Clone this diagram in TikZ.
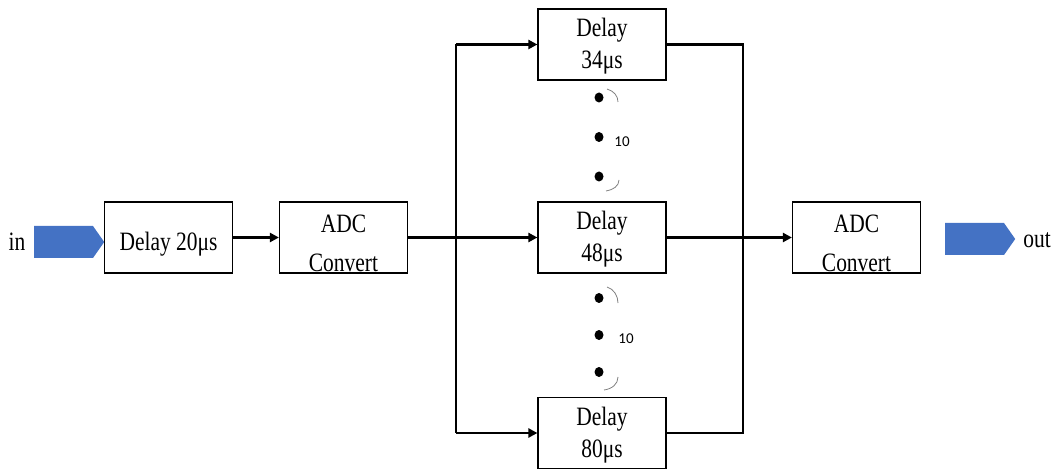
\documentclass[tikz,border=0pt]{standalone}
\usepackage{fontspec}
\setmainfont{Liberation Serif}[FakeStretch=0.81]
\newfontfamily\calfont{Carlito}
\usetikzlibrary{arrows.meta,shapes.symbols}
\definecolor{officeblue}{HTML}{4472C4}
\tikzset{
  box/.style={draw,line width=1.2pt,minimum width=128pt,minimum height=71pt,inner sep=0pt,align=center,
    font=\fontsize{26.5}{32}\selectfont},
  dbox/.style={box,text height=48pt,text depth=0pt},
  abox/.style={box,text height=69pt,text depth=0pt,font=\fontsize{26.5}{39}\selectfont},
  conn/.style={line width=2.6pt},
  arr/.style={conn,-{Triangle[length=9pt,width=9pt]}},
  port/.style={signal,signal to=east,fill=officeblue,minimum width=70pt,minimum height=32pt,
    signal pointer angle=110,inner sep=0pt,anchor=west},
  dot/.style={ellipse,fill=black,inner sep=0pt,minimum width=9pt,minimum height=10pt},
  brace/.style={draw=gray,line width=0.8pt},
  cnt/.style={font=\calfont\fontsize{15}{15}\selectfont,inner sep=0pt},
  lbl/.style={font=\fontsize{26.5}{32}\selectfont,inner sep=0pt}
}
\usetikzlibrary{shapes.geometric}
\begin{document}
\begin{tikzpicture}[x=1pt,y=-1pt]
\useasboundingbox (0,0) rectangle (1060,470);
% input / output
\node[lbl] (intext) at (17,242) {in};
\node[port] (inport) at (34,242) {};
\node[port] (outport) at (945,239) {};
\node[lbl] (outtext) at (1037,240) {out};
% boxes
\node[box,text height=26pt,text depth=0pt] (d20) at (168.5,237.5) {Delay 20μs};
\node[abox] (adc1) at (343.5,237.5) {ADC\\Convert};
\node[dbox] (d34) at (602,44.5) {Delay\\34μs};
\node[dbox] (d48) at (602,237.5) {Delay\\48μs};
\node[dbox] (d80) at (602,433) {Delay\\80μs};
\node[abox] (adc2) at (856.5,237.5) {ADC\\Convert};
% bus coordinates
\coordinate (bt) at (456,44.5);
\coordinate (bb) at (456,433);
\coordinate (rt) at (743,44.5);
\coordinate (rb) at (743,433);
% connectors
\draw[arr] (d20.east) -- (adc1.west);
\draw[arr] (adc1.east) -- (d48.west);
\draw[conn] (bt) -- (bb);
\draw[arr] (bt) -- (d34.west);
\draw[arr] (bb) -- (d80.west);
\draw[conn] (d34.east) -- (rt) -- (rb) -- (d80.east);
\draw[arr] (d48.east) -- (adc2.west);
% dots upper group
\node[dot] (u1) at (599,97.5) {};
\node[dot] (u2) at (599,137) {};
\node[dot] (u3) at (599,176.5) {};
\node[cnt] (ucnt) at (622,142) {10};
\draw[brace] (607,89) .. controls (614,91) and (618,96) .. (618,102);
\draw[brace] (619,180) .. controls (619,186) and (613,190) .. (606,191);
% dots lower group
\node[dot] (l1) at (599,298) {};
\node[dot] (l2) at (599,335) {};
\node[dot] (l3) at (599,372) {};
\node[cnt] (lcnt) at (626,339) {10};
\draw[brace] (607,287) .. controls (614,289) and (618,296) .. (618,303);
\draw[brace] (618,377) .. controls (618,384) and (612,389) .. (604,390);
\end{tikzpicture}
\end{document}
